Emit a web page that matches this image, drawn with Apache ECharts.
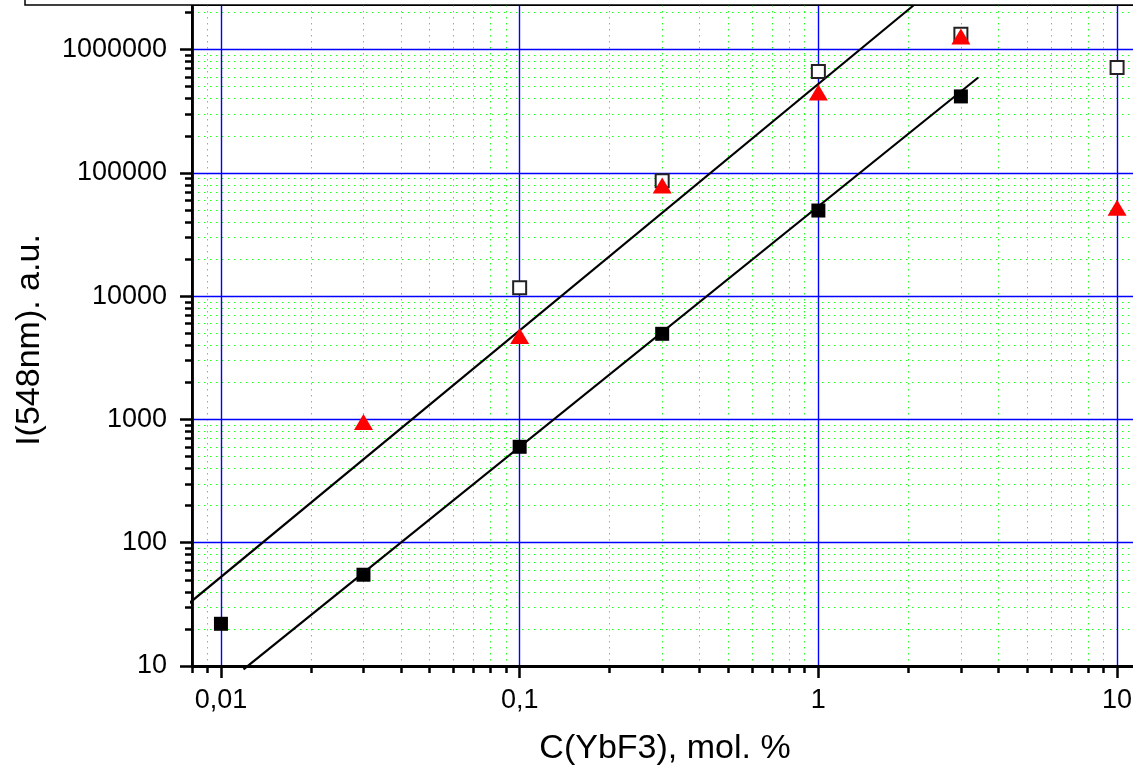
<!DOCTYPE html>
<html>
<head>
<meta charset="utf-8">
<title>I(548nm) vs C(YbF3)</title>
<script src="https://cdn.jsdelivr.net/npm/echarts@6/dist/echarts.min.js"></script>
<style>
  html, body { margin: 0; padding: 0; background: #fff; }
  #chart { width: 1133px; height: 771px; }
</style>
</head>
<body>
<div id="chart"></div>
<script>
// YbF3 concentration, mol. %
const concFilled   = [0.01, 0.03, 0.1, 0.3, 1, 3];
const intFilled    = [22, 55, 600, 4950, 49500, 417000];

const concOpen     = [0.1, 0.3, 1, 3, 10];
const intOpen      = [11700, 86500, 665000, 1330000, 716000];

const concTriangle = [0.03, 0.1, 0.3, 1, 3, 10];
const intTriangle  = [955, 4760, 78900, 449000, 1280000, 52200];

// straight-line fits (end points) on log-log axes
const fitUpper = [[0.0074, 28.9], [2.09, 2300000]];
const fitLower = [[0.0119, 9.4], [3.43, 594000]];

// axis ranges and tick values
const X_MIN = 0.008, X_MAX = 20;
const Y_MIN = 10, Y_MAX = 2300000;
const X_MAJOR = [0.01, 0.1, 1, 10];
const Y_MAJOR = [10, 100, 1000, 10000, 100000, 1000000];
const MULTS = [2, 3, 4, 5, 6, 7, 8, 9];

function minorValues(decades, lo, hi) {
  const out = [];
  decades.forEach(d => MULTS.forEach(m => {
    const v = +(d * m).toPrecision(3);
    if (v >= lo && v <= hi) out.push(v);
  }));
  return out;
}
const X_MINOR = [0.008, 0.009].concat(minorValues([0.01, 0.1, 1, 10], X_MIN, X_MAX));
const Y_MINOR = minorValues([10, 100, 1000, 10000, 100000, 1000000], Y_MIN, Y_MAX);

const zip = (xs, ys) => xs.map((x, i) => [x, ys[i]]);

const FONT = '"Liberation Sans", Arial, sans-serif';

const chart = echarts.init(document.getElementById('chart'), null, { renderer: 'canvas' });

const majorTick = () => ({ show: true, inside: false, length: 12, lineStyle: { color: '#000', width: 2.5 } });
const minorTick = () => ({ show: true, inside: false, length: 7, lineStyle: { color: '#000', width: 2.5 } });
const majorSplit = () => ({ show: true, lineStyle: { color: '#0000ff', width: 1.4 } });
const minorSplit = () => ({ show: true, lineStyle: { color: '#22ff22', width: 1, type: [1.5, 4.5] } });

function xLabel(v) {
  return String(+Number(v).toPrecision(3)).replace('.', ',');
}
function yLabel(v) {
  return String(Math.round(v));
}

chart.setOption({
  animation: false,
  backgroundColor: '#fff',
  grid: {
    left: 192, right: -74, top: 5, bottom: 105,
    show: true, borderColor: '#000', borderWidth: 2,
    containLabel: false, outerBoundsMode: 'none'
  },
  xAxis: [
    {
      type: 'log', logBase: 10, min: X_MIN, max: X_MAX, position: 'bottom', z: 1,
      axisLine: { show: true, onZero: false, lineStyle: { color: '#000', width: 2.8 } },
      axisTick: Object.assign({ customValues: X_MAJOR }, majorTick()),
      axisLabel: {
        customValues: X_MAJOR, formatter: xLabel,
        fontSize: 27, color: '#000', fontFamily: FONT, margin: 21
      },
      splitLine: majorSplit()
    },
    {
      type: 'log', logBase: 10, min: X_MIN, max: X_MAX, position: 'bottom', z: 0,
      axisLine: { show: false },
      axisTick: Object.assign({ customValues: X_MINOR }, minorTick()),
      axisLabel: { show: false },
      splitLine: minorSplit()
    }
  ],
  yAxis: [
    {
      type: 'log', logBase: 10, min: Y_MIN, max: Y_MAX, position: 'left', z: 1,
      axisLine: { show: true, onZero: false, lineStyle: { color: '#000', width: 2.8 } },
      axisTick: Object.assign({ customValues: Y_MAJOR }, majorTick()),
      axisLabel: {
        customValues: Y_MAJOR, formatter: yLabel,
        fontSize: 27, color: '#000', fontFamily: FONT, margin: 25
      },
      splitLine: majorSplit()
    },
    {
      type: 'log', logBase: 10, min: Y_MIN, max: Y_MAX, position: 'left', z: 0,
      axisLine: { show: false },
      axisTick: Object.assign({ customValues: Y_MINOR }, minorTick()),
      axisLabel: { show: false },
      splitLine: minorSplit()
    }
  ],
  graphic: [
    {
      type: 'rect', z: 10,
      shape: { x: 25, y: -40, width: 1200, height: 45 },
      style: { fill: '#fff', stroke: '#000', lineWidth: 1.5 }
    },
    {
      type: 'text', x: 665, y: 749, z: 10,
      style: {
        text: 'C(YbF3), mol. %', font: '34px ' + FONT, fill: '#000',
        align: 'center', verticalAlign: 'middle'
      }
    },
    {
      type: 'text', x: 30, y: 340, rotation: Math.PI / 2, z: 10,
      style: {
        text: 'I(548nm). a.u.', font: '34px ' + FONT, fill: '#000',
        align: 'center', verticalAlign: 'middle'
      }
    }
  ],
  series: [
    {
      name: 'fit upper', type: 'line', data: fitUpper, clip: false,
      symbol: 'none', z: 3,
      lineStyle: { color: '#000', width: 2.2 }
    },
    {
      name: 'fit lower', type: 'line', data: fitLower, clip: false,
      symbol: 'none', z: 3,
      lineStyle: { color: '#000', width: 2.2 }
    },
    {
      name: 'open', type: 'scatter', data: zip(concOpen, intOpen), clip: false,
      symbol: 'rect', symbolSize: 13, z: 4,
      itemStyle: { color: '#fff', borderColor: '#222', borderWidth: 2, opacity: 1 }
    },
    {
      name: 'filled', type: 'scatter', data: zip(concFilled, intFilled), clip: false,
      symbol: 'rect', symbolSize: 14, z: 5,
      itemStyle: { color: '#000', opacity: 1 }
    },
    {
      name: 'triangle', type: 'scatter', data: zip(concTriangle, intTriangle), clip: false,
      symbol: 'triangle', symbolSize: [19, 16], z: 6,
      itemStyle: { color: '#ff0000', opacity: 1 }
    }
  ]
});
</script>
</body>
</html>
